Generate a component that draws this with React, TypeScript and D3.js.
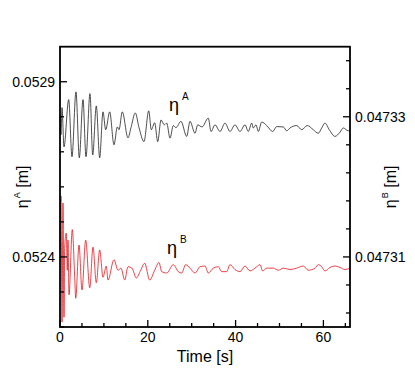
import React from "react";
import * as d3 from "d3";

// eta A (left axis) - time [s] and elevation [m]
const timeA = [
  0, 0.23, 0.46, 0.91, 1.98, 2.73, 3.64, 4.4, 5.24, 5.92, 6.83, 7.45, 8.27, 9.04, 9.79, 10.41,
  11.32, 12.3, 13.05, 13.44, 14.19, 15.49, 16.17, 17.15, 18.0, 19.13, 20.21, 20.8, 21.57, 22.26,
  23.01, 23.76, 24.31, 25.06, 25.81, 26.42, 27.56, 28.86, 29.61, 30.75, 31.37, 32.35, 33.78,
  34.4, 35.31, 36.45, 37.59, 38.72, 39.86, 41.0, 42.14, 42.89, 43.67, 44.03, 44.65, 45.17,
  45.95, 47.08, 48.45, 49.36, 50.87, 51.64, 52.39, 53.92, 55.06, 56.33, 57.7, 58.84, 59.61,
  60.36, 61.34, 62.64, 63.78, 64.53, 65.67, 66.06,
];
const etaA = [
  0.052806, 0.052749, 0.052826, 0.052714, 0.052849, 0.052686, 0.052871, 0.052683, 0.052849,
  0.052686, 0.052866, 0.052691, 0.052831, 0.052683, 0.052814, 0.052763, 0.052814, 0.05272,
  0.052771, 0.052763, 0.052814, 0.05274, 0.052769, 0.052811, 0.052769, 0.052729, 0.052817,
  0.052763, 0.052783, 0.052729, 0.052791, 0.052777, 0.052782, 0.052739, 0.052775, 0.052769,
  0.052787, 0.052744, 0.052787, 0.052753, 0.052777, 0.052771, 0.052796, 0.052758, 0.052777,
  0.052758, 0.052782, 0.052758, 0.052777, 0.052758, 0.052777, 0.052758, 0.052782, 0.052768,
  0.052777, 0.052758, 0.052785, 0.052775, 0.052758, 0.052772, 0.052771, 0.05276, 0.052768,
  0.052775, 0.052763, 0.052775, 0.052763, 0.052753, 0.052768, 0.052782, 0.052763, 0.052744,
  0.052756, 0.052768, 0.05276, 0.05276,
];

// eta B (right axis)
const timeB = [
  0, 0.23, 0.46, 0.68, 0.91, 1.07, 1.44, 1.66, 1.82, 2.05, 2.8, 3.35, 3.58, 4.33, 5.01, 5.85,
  6.77, 7.52, 8.27, 9.04, 9.79, 10.55, 10.93, 12.3, 13.21, 13.9, 14.74, 15.49, 16.4, 17.38,
  18.38, 19.29, 20.43, 21.57, 22.55, 23.17, 24.31, 25.81, 26.95, 27.72, 28.63, 29.61, 30.75,
  31.89, 33.03, 33.78, 34.92, 36.06, 36.83, 37.97, 38.72, 39.86, 41.0, 42.14, 43.28, 44.81,
  45.56, 46.17, 47.08, 48.59, 49.73, 50.87, 52.39, 53.92, 55.42, 56.56, 58.09, 58.84, 59.61,
  60.36, 61.5, 62.64, 63.78, 64.92, 66.06,
];
const etaB = [
  0.047311, 0.0473187, 0.0473007, 0.0473177, 0.0473014, 0.0473114, 0.0473134, 0.0473081,
  0.0473124, 0.0473046, 0.0473139, 0.0473071, 0.0473041, 0.0473117, 0.0473053, 0.0473124,
  0.0473056, 0.0473114, 0.0473063, 0.047311, 0.0473071, 0.0473087, 0.0473067, 0.0473096,
  0.0473081, 0.0473084, 0.0473067, 0.0473086, 0.0473084, 0.047307, 0.0473081, 0.0473091,
  0.0473067, 0.0473081, 0.0473092, 0.0473079, 0.0473077, 0.0473089, 0.0473079, 0.0473077,
  0.0473089, 0.0473084, 0.0473077, 0.0473086, 0.0473087, 0.0473077, 0.0473084, 0.0473086,
  0.0473079, 0.0473079, 0.0473089, 0.0473082, 0.0473079, 0.0473087, 0.047308, 0.0473086,
  0.0473089, 0.047308, 0.0473084, 0.0473084, 0.0473081, 0.0473084, 0.0473082, 0.0473084,
  0.0473087, 0.0473081, 0.0473084, 0.0473089, 0.0473086, 0.047308, 0.0473085, 0.0473087,
  0.0473085, 0.0473082, 0.0473084,
];

const xTicks = [0, 20, 40, 60];
const leftTicks = [0.0524, 0.0529];
const rightTicks = [0.04731, 0.04733];

const FONT = "'Liberation Sans', Arial, Helvetica, sans-serif";

export default function App() {
  const width = 415, height = 369;
  const m = { left: 60, right: 350, top: 46.7, bottom: 327 };

  const x = d3.scaleLinear().domain([0, 66.06]).range([m.left, m.right]);
  const yA = d3.scaleLinear().domain([0.0522, 0.0530]).range([m.bottom, m.top]);
  const yB = d3.scaleLinear().domain([0.0473, 0.04734]).range([m.bottom, m.top]);

  const lineA = d3.line<number>()
    .x((_, i) => x(timeA[i]))
    .y((d) => yA(d))
    .curve(d3.curveMonotoneX);
  const lineB = d3.line<number>()
    .x((_, i) => x(timeB[i]))
    .y((d) => yB(d))
    .curve(d3.curveMonotoneX);

  const xMinor = d3.range(0, 66, 5);
  // left: minor every 0.0001, majors at 0.0524 / 0.0529
  const leftMinor = d3.range(0, 8).map((i) => 0.0522 + i * 0.0001);
  // right: minor every 0.000004 around 0.04731
  const rightMinor = d3.range(-2, 8).map((k) => 0.04731 + k * 0.000004);

  return (
    <svg width={width} height={height} style={{ position: "absolute", left: 0, top: 0 }} fontFamily={FONT}>
      <path d={lineA(etaA) || ""} fill="none" stroke="#222" strokeWidth={0.8} />
      <path d={lineB(etaB) || ""} fill="none" stroke="#e8141c" strokeWidth={0.8} />

      {/* frame */}
      <rect x={m.left} y={m.top} width={m.right - m.left} height={m.bottom - m.top}
        fill="none" stroke="#000" strokeWidth={1.8} />

      {/* bottom ticks */}
      {xMinor.map((t) => (
        <line key={"xm" + t} x1={x(t)} x2={x(t)} y1={m.bottom} y2={m.bottom - (t % 20 === 0 ? 7 : 4)}
          stroke="#000" strokeWidth={1.3} />
      ))}
      {xTicks.map((t) => (
        <text key={"xt" + t} x={x(t)} y={342} textAnchor="middle" fontSize={14}>{t}</text>
      ))}

      {/* left ticks */}
      {leftMinor.map((v, i) => (
        <line key={"lm" + i} x1={m.left} x2={m.left + (i % 5 === 2 ? 7 : 4)} y1={yA(v)} y2={yA(v)}
          stroke="#000" strokeWidth={1.3} />
      ))}
      {leftTicks.map((v) => (
        <text key={"lt" + v} x={m.left - 5} y={yA(v)} dy="0.35em" textAnchor="end" fontSize={14}>{v}</text>
      ))}

      {/* right ticks */}
      {rightMinor.map((v, i) => (
        <line key={"rm" + i} x1={m.right} x2={m.right - ((i - 2) % 5 === 0 ? 7 : 4)} y1={yB(v)} y2={yB(v)}
          stroke="#000" strokeWidth={1.3} />
      ))}
      {rightTicks.map((v) => (
        <text key={"rt" + v} x={m.right + 5} y={yB(v)} dy="0.35em" textAnchor="start" fontSize={14}>{v}</text>
      ))}

      {/* axis titles */}
      <text x={(m.left + m.right) / 2} y={362} textAnchor="middle" fontSize={16}>Time [s]</text>
      <text transform={`translate(28,${(m.top + m.bottom) / 2}) rotate(-90)`} textAnchor="middle" fontSize={16}>
        <tspan>η</tspan><tspan fontSize={9} dy={-8} dx={1}>A</tspan><tspan dy={8}> [m]</tspan>
      </text>
      <text transform={`translate(396,${(m.top + m.bottom) / 2}) rotate(-90)`} textAnchor="middle" fontSize={16}>
        <tspan>η</tspan><tspan fontSize={9} dy={-8} dx={1}>B</tspan><tspan dy={8}> [m]</tspan>
      </text>

      {/* curve labels */}
      <text x={169} y={111} fontSize={18}>
        <tspan>η</tspan><tspan fontSize={10} dy={-11} dx={3}>A</tspan>
      </text>
      <text x={167} y={254} fontSize={18}>
        <tspan>η</tspan><tspan fontSize={10} dy={-11} dx={3}>B</tspan>
      </text>
    </svg>
  );
}
